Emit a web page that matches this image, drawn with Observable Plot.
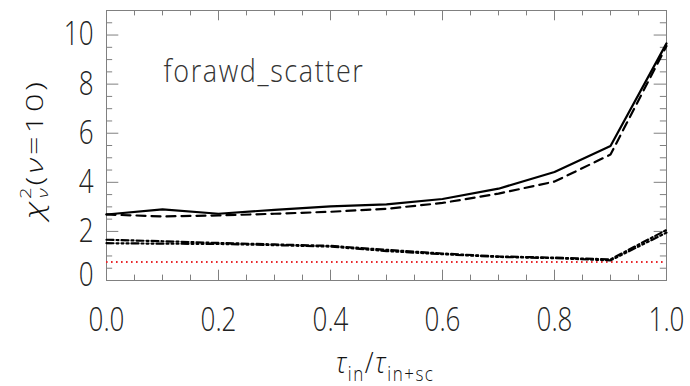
<!DOCTYPE html>
<html>
<head>
<meta charset="utf-8">
<script src="https://cdn.jsdelivr.net/npm/d3@7"></script>
<script src="https://cdn.jsdelivr.net/npm/@observablehq/plot@0.6"></script>
<style>
  html, body { margin: 0; padding: 0; background: #fff; }
  #chart svg { display: block; }
</style>
</head>
<body>
<div id="chart"></div>
<script>
// ---- data ----
const tauRatio   = [0.0, 0.1, 0.2, 0.3, 0.4, 0.5, 0.6, 0.7, 0.8, 0.9, 1.0];
const solidChi   = [2.69, 2.90, 2.72, 2.88, 3.02, 3.10, 3.32, 3.74, 4.42, 5.48, 9.66];
const dashedChi  = [2.69, 2.61, 2.65, 2.72, 2.80, 2.92, 3.16, 3.54, 4.03, 5.13, 9.55];
const dashDotChi = [1.66, 1.60, 1.53, 1.47, 1.41, 1.25, 1.10, 0.98, 0.93, 0.86, 2.06];
const dashDot3Chi= [1.52, 1.50, 1.49, 1.44, 1.38, 1.20, 1.07, 0.96, 0.91, 0.82, 1.95];
const refLevel   = [0.75];
const xTickLabels = [0.0, 0.2, 0.4, 0.6, 0.8, 1.0];
const yTickLabels = [0, 2, 4, 6, 8, 10];
const xMinorTicks = d3.range(0, 21).map(i => i * 0.05);
const yMinorTicks = d3.range(0, 23).map(i => i * 0.5);
const annotation = "forawd_scatter";

const seriesDefs = [
  {name: "solid",    values: solidChi,    dash: null},
  {name: "dashed",   values: dashedChi,   dash: "9,6"},
  {name: "dashdot",  values: dashDotChi,  dash: "7,3,2,3"},
  {name: "dashdot3", values: dashDot3Chi, dash: "7,3,2,3,2,3,2,3"}
];

const xMajorSet = new Set(xTickLabels.map(v => v.toFixed(2)));
const yMajorSet = new Set(yTickLabels.map(v => v.toFixed(2)));
const xMin = xMinorTicks.filter(v => !xMajorSet.has(v.toFixed(2)));
const yMin = yMinorTicks.filter(v => !yMajorSet.has(v.toFixed(2)));
const yLabelsUpper = yTickLabels.filter(v => v !== 0);
const yLabelsZero = yTickLabels.filter(v => v === 0);

const frameColor = "#808080";
const font = "'Open Sans', 'DejaVu Sans', sans-serif";
const lineMarks = seriesDefs.map(s =>
  Plot.line(tauRatio.map((x, i) => ({x, y: s.values[i]})), {
    x: "x", y: "y", stroke: "#000", strokeWidth: 2.2,
    strokeDasharray: s.dash, strokeLinejoin: "round"
  })
);

const plot = Plot.plot({
  width: 690,
  height: 386,
  marginLeft: 106,
  marginRight: 24,
  marginTop: 10,
  marginBottom: 106,
  style: {fontFamily: font, fontWeight: 300, color: "#222", background: "#fff"},
  x: {domain: [0, 1]},
  y: {domain: [0, 11]},
  marks: [
    // ticks (inward), all four sides
    Plot.ruleX(xMin, {y1: 0, y2: 0.22, stroke: frameColor}),
    Plot.ruleX(xTickLabels, {y1: 0, y2: 0.42, stroke: frameColor}),
    Plot.ruleX(xMin, {y1: 11 - 0.22, y2: 11, stroke: frameColor}),
    Plot.ruleX(xTickLabels, {y1: 11 - 0.42, y2: 11, stroke: frameColor}),
    Plot.ruleY(yMin, {x1: 0, x2: 0.011, stroke: frameColor}),
    Plot.ruleY(yTickLabels, {x1: 0, x2: 0.022, stroke: frameColor}),
    Plot.ruleY(yMin, {x1: 1 - 0.011, x2: 1, stroke: frameColor}),
    Plot.ruleY(yTickLabels, {x1: 1 - 0.022, x2: 1, stroke: frameColor}),
    Plot.frame({stroke: frameColor}),
    Plot.axisX({ticks: xTickLabels, tickSize: 0, tickPadding: 27, tickFormat: d3.format(".1f"), fontSize: 26, label: null, fill: "#222", className: "xtl"}),
    Plot.axisY({ticks: yLabelsUpper, tickSize: 0, tickPadding: 13, tickFormat: d3.format("d"), fontSize: 26, label: null, fill: "#222", className: "ytl"}),
    Plot.axisY({ticks: yLabelsZero, tickSize: 0, tickPadding: 13, dy: -4.5, tickFormat: d3.format("d"), fontSize: 26, label: null, fill: "#222", className: "ytl"}),
    Plot.ruleY(refLevel, {stroke: "#e8262a", strokeWidth: 2, strokeDasharray: "1.6,3.4"}),
    ...lineMarks,
    Plot.text([annotation], {x: 0.102, y: 8.07, text: d => d, textAnchor: "start", lineAnchor: "bottom", fontSize: 27, fill: "#333", className: "annot"})
  ]
});

document.getElementById("chart").appendChild(plot);
const svg = d3.select(plot);

// vertical stretch of text glyphs (the reference's lettering is taller than wide)
function stretch(selection, s) {
  selection.each(function () {
    const tr = this.getAttribute("transform") || "";
    this.setAttribute("transform", `${tr} scale(1,${s})`);
  });
}
stretch(svg.selectAll(".xtl text"), 1.25);
stretch(svg.selectAll(".ytl text"), 1.25);
svg.selectAll(".annot text").attr("letter-spacing", 1.6);
stretch(svg.selectAll(".annot text"), 1.15);

// axis titles with sub/superscripts as real SVG text
const xt = svg.append("text")
  .attr("transform", "translate(385,373) scale(1,1.15)")
  .attr("text-anchor", "middle")
  .attr("font-family", font)
  .attr("font-weight", 300)
  .attr("fill", "#111")
  .attr("font-size", 26)
  .attr("letter-spacing", 1.5);
xt.append("tspan").attr("font-style", "italic").text("τ");
xt.append("tspan").attr("font-size", 17).attr("dy", 7).text("in");
xt.append("tspan").attr("dy", -7).text("/");
xt.append("tspan").attr("font-style", "italic").text("τ");
xt.append("tspan").attr("font-size", 17).attr("dy", 7).text("in+sc");

const yt = svg.append("text")
  .attr("transform", "translate(43,149) scale(1,1.35) rotate(-90)")
  .attr("text-anchor", "middle")
  .attr("font-family", font)
  .attr("font-weight", 300)
  .attr("fill", "#111")
  .attr("font-size", 24)
  .attr("letter-spacing", 2.2);
yt.append("tspan").attr("font-style", "italic").attr("font-size", 26).text("χ");
yt.append("tspan").attr("font-size", 15).attr("dy", -12).text("2");
yt.append("tspan").attr("font-size", 15).attr("dx", -10).attr("dy", 17).attr("font-style", "italic").text("ν");
yt.append("tspan").attr("dy", -5).text("(");
yt.append("tspan").attr("font-style", "italic").text("ν");
yt.append("tspan").text("=10)");
</script>
</body>
</html>
